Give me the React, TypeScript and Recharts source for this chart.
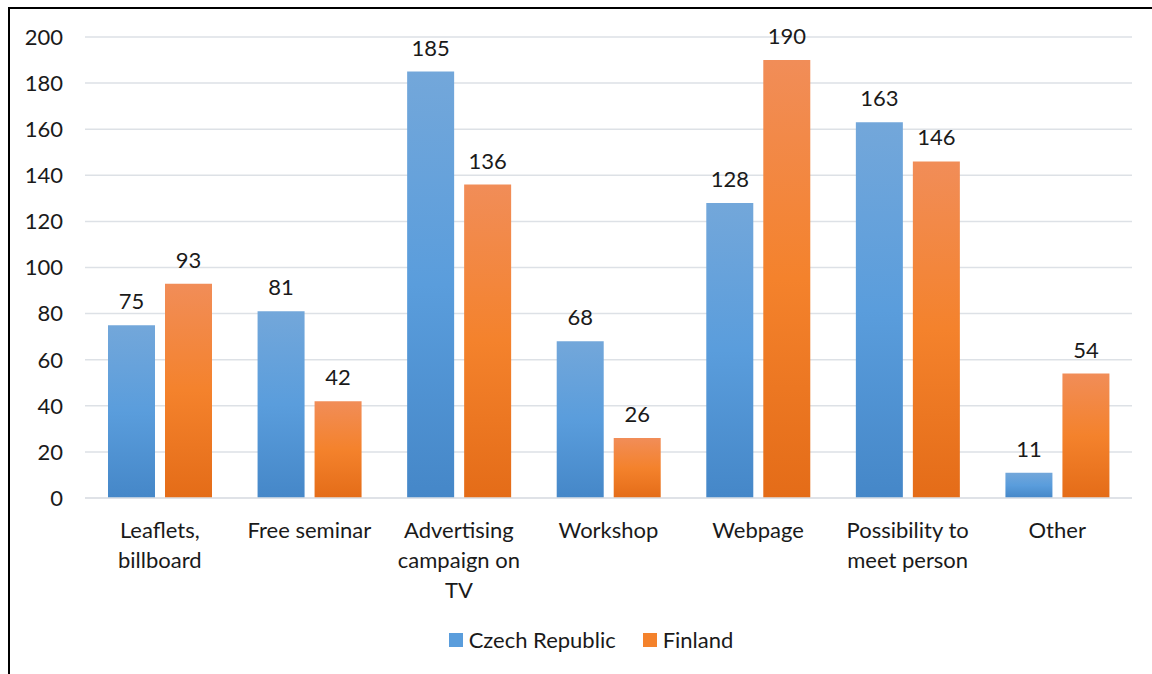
import { BarChart, Bar, XAxis, YAxis, CartesianGrid, Legend, LabelList } from "recharts"

const categories = [
  "Leaflets, billboard",
  "Free seminar",
  "Advertising campaign on TV",
  "Workshop",
  "Webpage",
  "Possibility to meet person",
  "Other",
]
const czechRepublic = [75, 81, 185, 68, 128, 163, 11]
const finland = [93, 42, 136, 26, 190, 146, 54]
const yTicks = [0, 20, 40, 60, 80, 100, 120, 140, 160, 180, 200]

const data = categories.map((name, i) => ({
  name,
  cz: czechRepublic[i],
  fi: finland[i],
}))

const FONT = "Lato, 'Open Sans', sans-serif"
const FS = 22
const TEXT = "#1a1a1a"

// greedy word wrap, measured with a canvas so it follows the real font
function wrapLabel(text: string, maxWidth: number): string[] {
  const ctx = document.createElement("canvas").getContext("2d")
  if (!ctx) return [text]
  ctx.font = `${FS}px ${FONT}`
  const lines: string[] = []
  let cur = ""
  for (const w of text.split(" ")) {
    const next = cur ? cur + " " + w : w
    if (cur && ctx.measureText(next).width > maxWidth) {
      lines.push(cur)
      cur = w
    } else {
      cur = next
    }
  }
  if (cur) lines.push(cur)
  return lines
}

function CategoryTick(props: any) {
  const { x, y, payload } = props
  const lines = wrapLabel(String(payload.value), 132)
  return (
    <text x={x} y={y + 32} textAnchor="middle" fontFamily={FONT} fontSize={FS} fill={TEXT}>
      {lines.map((l, i) => (
        <tspan key={i} x={x} dy={i === 0 ? 0 : 30}>
          {l}
        </tspan>
      ))}
    </text>
  )
}

function LegendContent() {
  const items = [
    { label: "Czech Republic", color: "#5a9ddc" },
    { label: "Finland", color: "#f4822c" },
  ]
  return (
    <div
      style={{
        display: "flex",
        justifyContent: "center",
        paddingLeft: 40,
        fontFamily: FONT,
        fontSize: FS,
        color: TEXT,
      }}
    >
      {items.map((it, i) => (
        <div key={it.label} style={{ display: "flex", alignItems: "center", marginRight: i === 0 ? 27 : 0 }}>
          <span style={{ width: 14, height: 14, background: it.color, marginRight: 6, display: "inline-block" }} />
          <span>{it.label}</span>
        </div>
      ))}
    </div>
  )
}

export default function App() {
  return (
    <div
      style={{
        position: "absolute",
        left: 8,
        top: 7,
        width: 1144,
        height: 667,
        borderLeft: "2px solid #000",
        borderTop: "2px solid #000",
        background: "#fff",
      }}
    >
      <BarChart
        width={1142}
        height={665}
        data={data}
        margin={{ top: 28, right: 20, left: 0, bottom: 6 }}
        barSize={47}
        barGap={10}
      >
        <defs>
          <linearGradient id="gBlue" x1="0" y1="0" x2="0" y2="1">
            <stop offset="0%" stopColor="#73a7da" />
            <stop offset="50%" stopColor="#5a9ddc" />
            <stop offset="100%" stopColor="#4587c8" />
          </linearGradient>
          <linearGradient id="gOrange" x1="0" y1="0" x2="0" y2="1">
            <stop offset="0%" stopColor="#f18d58" />
            <stop offset="50%" stopColor="#f4822c" />
            <stop offset="100%" stopColor="#e46c18" />
          </linearGradient>
        </defs>
        <CartesianGrid vertical={false} stroke="#dde1e6" strokeWidth={1.5} />
        <XAxis
          dataKey="name"
          axisLine={{ stroke: "#dde1e6", strokeWidth: 1.5 }}
          tickLine={false}
          interval={0}
          height={128}
          tick={<CategoryTick />}
        />
        <YAxis
          domain={[0, 200]}
          ticks={yTicks}
          width={75}
          axisLine={false}
          tickLine={false}
          tickSize={0}
          tickMargin={22}
          tick={{ fontFamily: FONT, fontSize: FS, fill: TEXT }}
        />
        <Legend verticalAlign="bottom" height={42} content={<LegendContent />} />
        <Bar dataKey="cz" name="Czech Republic" fill="url(#gBlue)" isAnimationActive={false}>
          <LabelList dataKey="cz" position="top" offset={16} fontFamily={FONT} fontSize={FS} fill={TEXT} />
        </Bar>
        <Bar dataKey="fi" name="Finland" fill="url(#gOrange)" isAnimationActive={false}>
          <LabelList dataKey="fi" position="top" offset={16} fontFamily={FONT} fontSize={FS} fill={TEXT} />
        </Bar>
      </BarChart>
    </div>
  )
}
